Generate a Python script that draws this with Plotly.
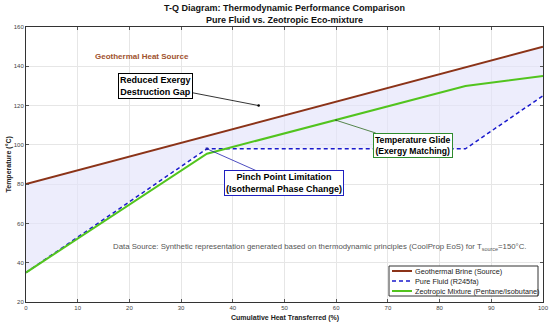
import plotly.graph_objects as go

# Data
q_source = [0, 100]
t_source = [80, 150]
q_pure = [0, 35, 85, 100]
t_pure = [35, 98, 98, 125]
q_mix = [0, 35, 85, 100]
t_mix = [35, 95.5, 130, 135]

x_ticks = list(range(0, 101, 10))
y_ticks = list(range(20, 161, 20))

names = ["Geothermal Brine (Source)", "Pure Fluid (R245fa)", "Zeotropic Mixture (Pentane/Isobutane)"]
colors = ["#8B3318", "#1A1ACC", "#52C41E"]
dashes = ["solid", "4px,3px", "solid"]
widths = [2, 1.5, 2]

FONT = "Liberation Sans, Arial, sans-serif"

# plot area in pixels
L, R, T, B = 26, 543, 27, 302
W, H = R - L, B - T


def px(xp):
    return (xp - L) / W


def py(yp):
    return (B - yp) / H


def d_from_px(xp, yp):
    return (xp - L) / W * 100, 20 + (B - yp) / H * 140


fig = go.Figure()

# Fill between source and pure fluid
src_at = [t_source[0] + (t_source[1] - t_source[0]) * q / 100 for q in q_pure]
fig.add_trace(go.Scatter(x=q_pure, y=t_pure, mode="lines", line=dict(width=0),
                         showlegend=False, hoverinfo="skip"))
fig.add_trace(go.Scatter(x=q_pure, y=src_at, mode="lines", line=dict(width=0), fill="tonexty",
                         fillcolor="rgba(228,228,250,0.65)", showlegend=False, hoverinfo="skip"))

fig.add_trace(go.Scatter(x=q_source, y=t_source, mode="lines", name=names[0],
                         line=dict(color=colors[0], width=widths[0]), showlegend=False))
fig.add_trace(go.Scatter(x=q_pure, y=t_pure, mode="lines", name=names[1],
                         line=dict(color=colors[1], width=widths[1], dash=dashes[1]), showlegend=False))
fig.add_trace(go.Scatter(x=q_mix, y=t_mix, mode="lines", name=names[2],
                         line=dict(color=colors[2], width=widths[2]), showlegend=False))

axis_common = dict(ticks="inside", ticklen=3, tickcolor="#555", showgrid=True,
                   gridcolor="#E6E6E6", gridwidth=1, zeroline=False, showline=True,
                   linecolor="#333", linewidth=1, mirror="ticks", automargin=False,
                   tickfont=dict(size=6, color="#444"))

fig.update_layout(
    width=550, height=326,
    margin=dict(l=L, r=550 - R, t=T, b=326 - B, autoexpand=False),
    paper_bgcolor="white", plot_bgcolor="white",
    font=dict(family=FONT, size=7, color="#262626"),
    xaxis=dict(range=[0, 100], tickvals=x_ticks, **axis_common),
    yaxis=dict(range=[20, 160], tickvals=y_ticks, **axis_common),
    showlegend=False,
)


def label(x, y, text, size, color, **kw):
    fig.add_annotation(x=x, y=y, xref="paper", yref="paper", showarrow=False,
                       yanchor=kw.pop("yanchor", "middle"), xanchor=kw.pop("xanchor", "center"),
                       text=text, font=dict(size=size, color=color), **kw)


# Titles
label(0.5, py(8), "<b>T-Q Diagram: Thermodynamic Performance Comparison</b>", 9, "#111")
label(0.5, py(20), "<b>Pure Fluid vs. Zeotropic Eco-mixture</b>", 9, "#111")
label(0.5, py(318), "<b>Cumulative Heat Transferred (%)</b>", 7, "#222")
label(px(8), 0.5, "<b>Temperature (°C)</b>", 7, "#222", textangle=-90)

fig.add_annotation(x=22.4, y=145, text="<b>Geothermal Heat Source</b>", showarrow=False,
                   font=dict(size=8, color="#A0522D"))

ax, ay = d_from_px(155, 85.5)
fig.add_annotation(x=45, y=120, ax=ax, ay=ay, axref="x", ayref="y",
                   text="<b>Reduced Exergy<br>Destruction Gap</b>",
                   showarrow=True, arrowhead=6, arrowsize=0.8, arrowwidth=0.8, arrowcolor="black",
                   font=dict(size=9, color="black"), bgcolor="white", bordercolor="black",
                   borderwidth=1, borderpad=1)

ax, ay = d_from_px(413, 145)
fig.add_annotation(x=60, y=112.5, ax=ax, ay=ay, axref="x", ayref="y",
                   text="<b>Temperature Glide<br>(Exergy Matching)</b>",
                   showarrow=True, arrowhead=6, arrowsize=0.6, arrowwidth=0.8, arrowcolor="#2E6B1E",
                   font=dict(size=8.6, color="black"), bgcolor="white", bordercolor="#2E8B2E",
                   borderwidth=1, borderpad=1)

ax, ay = d_from_px(284, 183)
fig.add_annotation(x=35, y=98, ax=ax, ay=ay, axref="x", ayref="y",
                   text="<b>Pinch Point Limitation<br>(Isothermal Phase Change)</b>",
                   showarrow=True, arrowhead=7, arrowsize=0.8, arrowwidth=0.8, arrowcolor="#2020B0",
                   font=dict(size=9, color="black"), bgcolor="white", bordercolor="#2020C0",
                   borderwidth=1, borderpad=1)

label(px(320), py(247),
      "Data Source: Synthetic representation generated based on thermodynamic principles (CoolProp EoS) for T<sub>source</sub>=150°C.",
      7.8, "#555")

# Custom legend
lx0, lx1, ly0, ly1 = 389, 538, 266, 296
fig.add_shape(type="rect", xref="paper", yref="paper", x0=px(lx0), x1=px(lx1), y0=py(ly1), y1=py(ly0),
              line=dict(color="#333", width=1), fillcolor="white", layer="above")
for i, (n, c, d, w) in enumerate(zip(names, colors, dashes, widths)):
    yy = py(271 + 10 * i)
    fig.add_shape(type="line", xref="paper", yref="paper", x0=px(392), x1=px(412), y0=yy, y1=yy,
                  line=dict(color=c, width=w, dash=d), layer="above")
    label(px(413), yy, n, 7.3, "#222", xanchor="left")

fig.write_html("out.html", config={"displayModeBar": False},
               post_script="document.body.style.margin='0';")
